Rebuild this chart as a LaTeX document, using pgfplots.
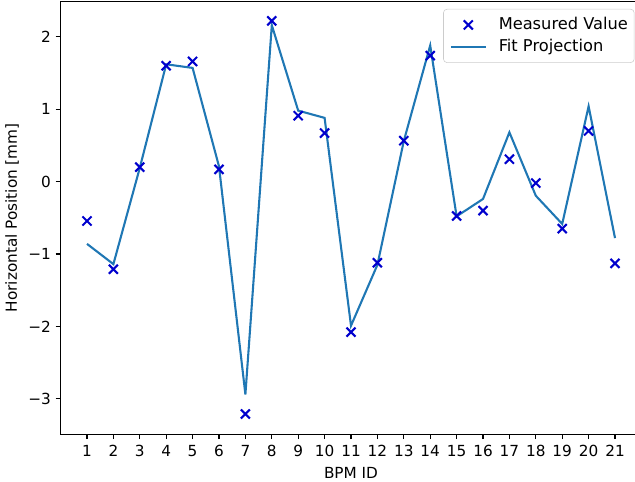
\documentclass[border=0pt]{standalone}
\usepackage{fontspec}
\setmainfont{DejaVu Sans}
\usepackage{pgfplots}
\pgfplotsset{compat=1.18}
\definecolor{mblue}{HTML}{0000CD}
\definecolor{tabblue}{HTML}{1F77B4}
\begin{document}
\begin{tikzpicture}
\begin{axis}[
  at={(0,0)}, anchor=south west,
  scale only axis,
  width=418.18pt, height=311.76pt,
  xmin=0, xmax=22,
  ymin=-3.49, ymax=2.49,
  xtick={1,...,21},
  ytick={-3,-2,-1,0,1,2},
  yticklabels={−3,−2,−1,0,1,2},
  xtick pos=left, ytick pos=left,
  tick align=outside,
  major tick length=3.5pt,
  every tick/.style={black, line width=0.8pt},
  axis line style={line width=0.8pt},
  /pgf/number format/assume math mode=true,
  tick label style={font=\fontsize{11}{13}\selectfont},
  xticklabel style={yshift=-1pt},
  every axis x label/.style={at={(axis description cs:0.5,0)}, anchor=center, yshift=-27.9pt, font=\fontsize{11}{13}\selectfont},
  every axis y label/.style={at={([xshift=-35pt]axis description cs:0,0.5)}, anchor=center, rotate=90, font=\fontsize{11}{13}\selectfont},
  xlabel={BPM ID},
  ylabel={Horizontal Position [mm]},
  legend cell align=left,
  legend style={at={(1,1)}, anchor=north east, xshift=-5pt, yshift=-5.5pt,
    draw=black!20, rounded corners=2.5pt, fill=white, fill opacity=0.8, text opacity=1,
    font=\fontsize{11.7}{14}\selectfont, inner xsep=4.5pt, inner ysep=6pt,
    nodes={inner sep=0pt, text height=8.5pt, text depth=2.2pt},
    row sep=5pt,
    /tikz/every odd column/.append style={column sep=8.6pt}},
  legend image code/.code={
    \draw[mark repeat=2,mark phase=2] plot coordinates {(0pt,0pt) (12.6pt,0pt) (25.2pt,0pt)};
  },
]
\addplot[only marks, mark=x, mark size=4.6pt, color=mblue, line width=1.5pt] coordinates {
(1,-0.544) (2,-1.21) (3,0.20) (4,1.60) (5,1.66) (6,0.17) (7,-3.21) (8,2.22)
(9,0.91) (10,0.67) (11,-2.08) (12,-1.12) (13,0.565) (14,1.74) (15,-0.475)
(16,-0.40) (17,0.31) (18,-0.02) (19,-0.65) (20,0.70) (21,-1.13)
};
\addlegendentry{Measured Value}
\addplot[color=tabblue, line width=1.5pt, no marks] coordinates {
(1,-0.86) (2,-1.14) (3,0.19) (4,1.62) (5,1.57) (6,0.21) (7,-2.94) (8,2.16)
(9,0.98) (10,0.88) (11,-1.99) (12,-1.15) (13,0.56) (14,1.88) (15,-0.48)
(16,-0.24) (17,0.68) (18,-0.195) (19,-0.585) (20,1.04) (21,-0.78)
};
\addlegendentry{Fit Projection}
\end{axis}
\pgfresetboundingbox
\useasboundingbox (-43.63pt,-34.34pt) rectangle (413.57pt,312.7pt);
\end{tikzpicture}
\end{document}
